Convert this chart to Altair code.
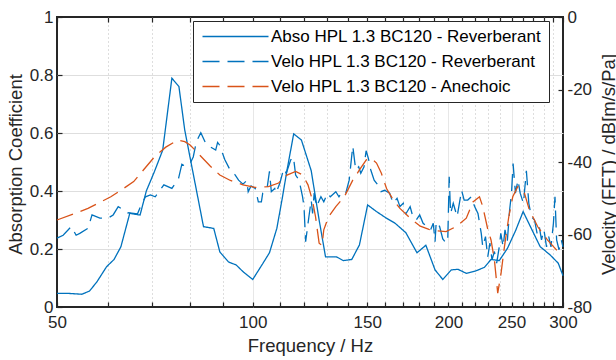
import altair as alt
import pandas as pd

# ---------------- data ----------------
abso_freq = [50.0, 52.0, 54.6, 56.1, 57.6, 59.6, 61.2, 62.7, 64.7, 67.1, 68.6, 70.6, 72.7,
             75.1, 77.0, 78.6, 84.0, 87.1, 89.0, 91.8, 94.3, 96.6, 100.0, 103.3, 106.1,
             108.9, 110.9, 112.9, 115.6, 118.8, 123.0, 126.5, 129.4, 134.5, 137.8, 142.0,
             145.9, 150.2, 155.0, 160.6, 165.5, 172.0, 178.9, 184.6, 190.7, 196.0, 202.0,
             206.8, 213.0, 220.6, 227.2, 232.5, 239.4, 246.4, 253.7, 260.5, 268.8, 276.7,
             286.5, 295.0, 300.0]
abso_coef = [0.047, 0.047, 0.044, 0.055, 0.087, 0.139, 0.164, 0.208, 0.323, 0.317, 0.400,
             0.467, 0.541, 0.789, 0.760, 0.610, 0.277, 0.271, 0.190, 0.155, 0.145, 0.122,
             0.095, 0.145, 0.187, 0.271, 0.369, 0.472, 0.597, 0.576, 0.470, 0.300, 0.173,
             0.173, 0.160, 0.164, 0.214, 0.352, 0.329, 0.306, 0.289, 0.256, 0.187, 0.213,
             0.128, 0.095, 0.128, 0.130, 0.116, 0.125, 0.137, 0.164, 0.160, 0.202, 0.264,
             0.329, 0.266, 0.208, 0.180, 0.151, 0.108]

rev_freq = [50.0, 51.1, 52.6, 53.5, 54.2, 55.8, 56.6, 58.2, 59.9, 61.0, 62.1, 64.2, 66.5,
            67.2, 68.4, 69.6, 70.8, 73.0, 75.1, 76.9, 77.8, 78.6, 80.1, 81.0, 81.9, 83.2,
            84.7, 86.2, 87.7, 88.3, 88.9, 90.6, 92.3, 94.0, 95.1, 96.6, 97.9, 98.4, 99.4,
            100.9, 102.0, 103.1, 103.6, 105.1, 106.1, 106.8, 108.1, 108.6, 110.1, 111.6,
            112.6, 114.4, 115.5, 116.4, 117.8, 119.3, 119.9, 120.6, 122.0, 123.0, 123.6,
            124.3, 125.3, 127.3, 128.6, 130.3, 131.6, 134.2, 135.7, 137.2, 139.0, 140.7,
            142.5, 144.0, 145.5, 146.6, 148.3, 149.4, 150.6, 151.9, 153.7, 155.7, 157.5,
            159.5, 162.4, 164.4, 166.7, 168.4, 170.4, 172.1, 174.6, 176.3, 178.4, 180.6,
            182.8, 185.0, 187.7, 189.5, 190.7, 191.5, 193.8, 196.0, 198.3, 199.5, 200.5,
            201.5, 203.4, 206.2, 209.5, 211.4, 214.1, 216.7, 219.4, 222.0, 224.6, 225.8,
            228.0, 229.8, 231.6, 233.3, 235.3, 237.2, 239.4, 240.7, 242.7, 244.3, 246.3,
            248.3, 250.0, 251.4, 253.5, 255.8, 257.8, 260.8, 263.5, 265.8, 268.2, 271.2,
            273.7, 275.8, 278.0, 280.4, 283.0, 285.2, 287.5, 290.0, 291.6, 293.3, 295.8,
            298.2, 300.0]
rev_db = [-61.0, -60.2, -57.8, -60.2, -59.7, -58.3, -54.6, -55.5, -55.5, -54.6, -52.3,
          -54.0, -54.3, -52.3, -49.6, -49.1, -49.6, -46.3, -47.3, -44.5, -40.6, -41.1,
          -40.4, -38.6, -34.4, -31.9, -34.9, -35.9, -36.7, -34.6, -35.3, -39.4, -42.2,
          -43.6, -45.0, -46.1, -45.1, -48.2, -46.6, -47.3, -51.0, -51.0, -48.6, -47.8,
          -42.6, -48.2, -47.3, -48.6, -45.8, -41.8, -43.1, -39.4, -38.6, -43.6, -45.0,
          -49.6, -52.3, -62.0, -55.1, -50.5, -54.2, -48.6, -52.3, -49.6, -51.0, -48.6,
          -49.6, -48.2, -49.6, -48.2, -48.6, -45.0, -35.6, -42.2, -41.3, -43.1, -41.3,
          -36.9, -39.0, -42.2, -45.0, -46.3, -48.2, -47.8, -48.6, -51.4, -50.0, -52.3,
          -51.4, -54.2, -52.3, -55.1, -56.0, -54.6, -56.9, -57.7, -58.7, -56.9, -62.0,
          -56.5, -57.8, -61.2, -62.4, -61.0, -44.1, -54.2, -51.4, -55.1, -47.8, -50.5,
          -50.5, -49.6, -52.3, -54.2, -59.7, -63.4, -60.6, -66.2, -62.4, -67.0, -64.7,
          -67.9, -63.4, -59.7, -63.4, -58.7, -62.0, -53.3, -48.6, -40.4, -48.6, -45.0,
          -48.6, -51.4, -42.4, -51.4, -55.1, -56.0, -59.7, -57.8, -61.5, -58.7, -63.4,
          -60.6, -63.4, -56.9, -49.6, -61.5, -64.2, -61.5, -63.4]

ane_freq = [50.0, 53.3, 55.8, 60.5, 62.7, 65.6, 68.2, 70.6, 73.5, 76.7, 78.6, 80.1, 82.9,
            86.0, 89.0, 92.4, 96.6, 100.8, 105.7, 109.6, 112.9, 116.4, 119.4, 121.6, 123.5,
            124.9, 126.5, 127.8, 128.6, 130.8, 134.2, 138.3, 142.5, 145.9, 149.5, 152.1,
            155.0, 157.7, 160.6, 164.5, 168.4, 174.6, 181.0, 186.6, 192.3, 198.3, 205.6,
            213.0, 218.1, 223.2, 225.8, 229.8, 232.5, 235.3, 238.1, 240.9, 243.8, 247.6,
            251.1, 255.6, 261.7, 266.3, 274.2, 283.9, 293.3, 298.3]
ane_db = [-56.0, -54.2, -52.8, -49.6, -47.8, -45.4, -41.8, -38.6, -35.9, -33.9, -34.4,
          -35.3, -38.1, -41.1, -43.6, -45.1, -46.3, -47.0, -46.8, -45.8, -43.6, -42.6,
          -43.6, -46.3, -50.5, -55.1, -62.4, -63.0, -58.7, -55.1, -52.3, -49.6, -45.0,
          -42.2, -39.4, -39.0, -40.3, -43.1, -47.3, -50.5, -52.8, -55.5, -57.7, -58.6,
          -59.0, -59.2, -57.8, -55.5, -51.0, -49.6, -52.3, -58.5, -61.5, -67.0, -76.2,
          -70.7, -63.4, -55.1, -49.6, -46.8, -48.6, -53.2, -57.8, -61.5, -64.3, -66.1]

series_names = ["Abso HPL 1.3 BC120 - Reverberant",
                "Velo HPL 1.3 BC120 - Reverberant",
                "Velo HPL 1.3 BC120 - Anechoic"]

x_ticks = list(range(50, 301, 10))
yl_ticks = [0, 0.2, 0.4, 0.6, 0.8, 1]
yr_ticks = [-80, -60, -40, -20, 0]

# ---------------- tables ----------------
abso_df = pd.DataFrame({"f": abso_freq, "a": abso_coef, "series": series_names[0]})
velo_df = pd.concat([
    pd.DataFrame({"f": rev_freq, "v": rev_db, "series": series_names[1]}),
    pd.DataFrame({"f": ane_freq, "v": ane_db, "series": series_names[2]}),
], ignore_index=True)

FONT = "Liberation Sans"
INK = "#262626"
BLUE = "#0072BD"
ORANGE = "#D95319"
DASH = [17, 8]

xscale = alt.Scale(type="log", domain=[50, 300], nice=False)
ylscale = alt.Scale(domain=[0, 1], nice=False, zero=False)
yrscale = alt.Scale(domain=[-80, 0], nice=False, zero=False)

legend = alt.Legend(
    title=None, orient="none", legendX=136, legendY=4,
    fillColor="white", strokeColor=INK, padding=7, cornerRadius=0,
    symbolType="M-6,0H6", symbolSize=121, symbolStrokeWidth=1.3,
    symbolOffset=27,
    labelFont=FONT, labelFontSize=17, labelColor="black",
    labelOffset=27, rowPadding=7, labelLimit=400,
)
color = alt.Color("series:N", scale=alt.Scale(domain=series_names,
                                               range=[BLUE, BLUE, ORANGE]), legend=legend)
dash = alt.StrokeDash("series:N", scale=alt.Scale(domain=series_names,
                                                   range=[[1, 0], DASH, DASH]), legend=legend)

is_major = "datum.value % 50 === 0"
edge_x = "datum.value === 50 || datum.value === 300"

x_main_axis = alt.Axis(
    orient="bottom", values=x_ticks,
    labelExpr=f"{is_major} ? datum.label : ''",
    ticks=False, tickSize=0, domain=False, labelOverlap=False, labelFlush=False,
    grid=True,
    gridColor={"condition": {"test": is_major, "value": "#dedede"}, "value": "#bcbcbc"},
    gridDash={"condition": {"test": is_major, "value": [1, 0]}, "value": [1, 3]},
    gridOpacity={"condition": {"test": edge_x, "value": 0}, "value": 1},
    gridWidth=1,
    labelFont=FONT, labelFontSize=17, labelColor=INK, labelPadding=7,
    title="Frequency / Hz", titleFont=FONT, titleFontSize=18.5, titleFontWeight="normal",
    titleColor=INK, titleX=253, titleY=44, titleBaseline="alphabetic",
)
yl_main_axis = alt.Axis(
    orient="left", values=yl_ticks, format=".1~f",
    ticks=False, tickSize=0, domain=False, labelFlush=False, labelOverlap=False,
    grid=True, gridColor="#dedede",
    gridOpacity={"condition": {"test": "datum.value === 0 || datum.value === 1", "value": 0},
                 "value": 1},
    labelFont=FONT, labelFontSize=17, labelColor=INK, labelPadding=4,
    title="Absorption Coefficient", titleFont=FONT, titleFontSize=18.5,
    titleFontWeight="normal", titleColor=INK, titleAngle=270,
    titleX=-36, titleY=147, titleBaseline="alphabetic", titleAlign="center",
)
yr_main_axis = alt.Axis(
    orient="right", values=yr_ticks,
    labelExpr="(datum.value < 0 ? '-' : '') + format(abs(datum.value), 'd')",
    ticks=False, tickSize=0, domain=False, grid=False, labelFlush=False, labelOverlap=False,
    labelFont=FONT, labelFontSize=17, labelColor=INK, labelPadding=4,
    title="Velocity (FFT) / dB[m/s/Pa]", titleFont=FONT, titleFontSize=18.5,
    titleFontWeight="normal", titleColor=INK, titleAngle=270,
    titleX=51, titleY=147, titleBaseline="alphabetic", titleAlign="center",
)


def tick_axis(orient, values):
    return alt.Axis(orient=orient, values=values, offset=-5, tickSize=5, ticks=True,
                    tickColor=INK, tickWidth=1.2, labels=False, domain=False,
                    grid=False, title=None)


abso_line = alt.Chart(abso_df).mark_line(strokeWidth=1.3).encode(
    x=alt.X("f:Q", scale=xscale, axis=x_main_axis),
    y=alt.Y("a:Q", scale=ylscale, axis=yl_main_axis),
    color=color, strokeDash=dash,
)
velo_lines = alt.Chart(velo_df).mark_line(strokeWidth=1.3).encode(
    x=alt.X("f:Q", scale=xscale, axis=None),
    y=alt.Y("v:Q", scale=yrscale, axis=yr_main_axis),
    color=color, strokeDash=dash,
    order=alt.Order("f:Q"),
)
ticks_a = alt.Chart(abso_df).mark_line(opacity=0).encode(
    x=alt.X("f:Q", scale=xscale, axis=tick_axis("bottom", x_ticks)),
    y=alt.Y("a:Q", scale=ylscale, axis=tick_axis("left", yl_ticks)),
)
ticks_b = alt.Chart(velo_df).mark_line(opacity=0).encode(
    x=alt.X("f:Q", scale=xscale, axis=tick_axis("top", x_ticks)),
    y=alt.Y("v:Q", scale=yrscale, axis=tick_axis("right", yr_ticks)),
    detail="series:N",
)

chart = alt.layer(abso_line, velo_lines, ticks_a, ticks_b).resolve_scale(
    y="independent"
).resolve_axis(
    x="independent", y="independent"
).properties(
    width=506, height=290,
    padding={"left": 57, "top": 17, "right": 53, "bottom": 53},
    autosize=alt.AutoSizeParams(type="none"),
    background="white",
).configure_view(
    stroke=INK, strokeWidth=2
)

chart.save("out.html", embed_options={"renderer": "svg", "actions": False})
